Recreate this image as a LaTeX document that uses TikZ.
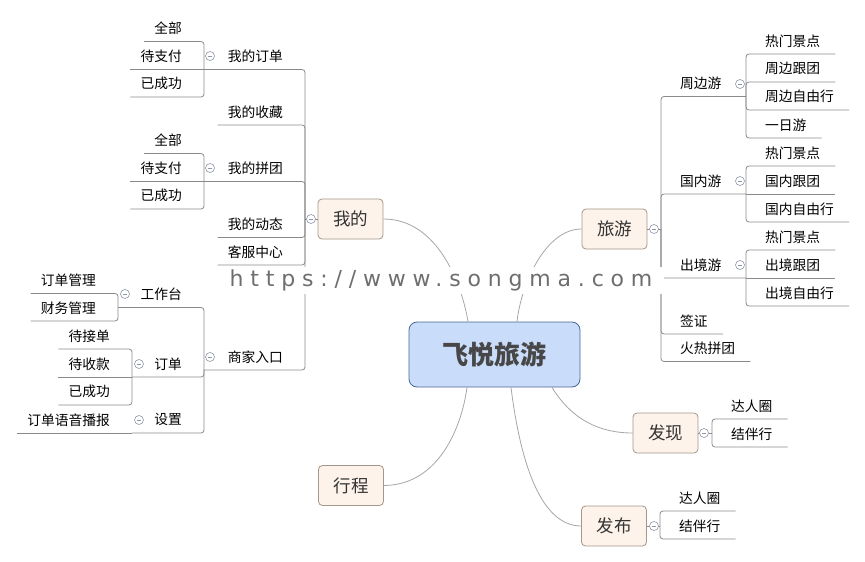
\documentclass[tikz,border=0pt]{standalone}
\usepackage{fontspec}
\usetikzlibrary{positioning}
\newfontfamily\cjk{Noto Sans CJK SC}
\newfontfamily\wmfont[LetterSpace=31]{DejaVu Sans}
\definecolor{rootfill}{HTML}{C9DCF9}
\definecolor{rootline}{HTML}{4B6894}
\definecolor{boxfill}{HTML}{FDF3EA}
\definecolor{boxline}{HTML}{A3968A}
\definecolor{treegray}{HTML}{8A8A8A}
\definecolor{curvegray}{HTML}{A6A6A6}
\definecolor{foldgray}{HTML}{8E96A8}
\definecolor{wmgray}{HTML}{6E6E6E}

\tikzset{
  leaf/.style={font=\cjk\fontsize{13.75}{16}\selectfont, inner ysep=0pt, minimum height=26pt},
  lnode/.style={leaf, inner xsep=10pt, anchor=south east, xshift=-12pt},
  rnode/.style={leaf, inner xsep=15pt, anchor=south west, xshift=4pt},
  tline/.style={draw=treegray, line width=0.8pt, rounded corners=3pt},
  curve/.style={draw=curvegray, line width=0.8pt},
  topicbox/.style={draw=boxline, fill=boxfill, rounded corners=4pt, line width=0.8pt,
    minimum width=65pt, minimum height=40pt, font=\cjk\fontsize{17.5}{20}\selectfont, text=black!80},
  rootbox/.style={draw=rootline, fill=rootfill, rounded corners=8pt, line width=0.8pt,
    minimum width=171pt, minimum height=65pt, font=\cjk\bfseries\fontsize{26}{30}\selectfont, text=black!72},
  fold/.style={circle, draw=foldgray, fill=white, inner sep=0pt, minimum size=9pt, line width=0.6pt,
    path picture={\draw[foldgray, line width=0.6pt] ([xshift=-2.3pt]path picture bounding box.center)
      -- ([xshift=2.3pt]path picture bounding box.center);}},
  wmark/.style={fill=white, inner sep=0pt, minimum width=446pt, minimum height=27pt,
    font=\wmfont\fontsize{22}{24}\selectfont, text=wmgray},
}

\begin{document}
\begin{tikzpicture}[x=1pt, y=-1pt]
  \useasboundingbox (0,0) rectangle (865,562);

  % central topic and main branches
  \node[rootbox] (root) at (494.5,354.5) {飞悦旅游};
  \node[topicbox] (wd) at (350.5,219) {我的};
  \node[topicbox] (ly) at (614.5,229) {旅游};
  \node[topicbox] (fx) at (665.5,433) {发现};
  \node[topicbox] (fb) at (614,526) {发布};
  \node[topicbox] (xc) at (351,485.5) {行程};

  \draw[curve] (wd.east) .. controls (438,219) and (462,285) .. ([xshift=-26.5pt]root.north);
  \draw[curve] (ly.west) .. controls (545,229) and (521,285) .. ([xshift=22.5pt]root.north);
  \draw[curve] (xc.east) .. controls (440,485) and (462,425) .. ([xshift=-27.5pt]root.south);
  \draw[curve] ([xshift=57.5pt]root.south) .. controls (572,420) and (600,433) .. (fx.west);
  \draw[curve] ([xshift=16.5pt]root.south) .. controls (522,475) and (545,526) .. (fb.west);

  % junctions
  \coordinate (wd-j) at (305,219);
  \coordinate (dd-j) at (204,69.5);
  \coordinate (pt-j) at (204,181.5);
  \coordinate (sj-j) at (204,370);
  \coordinate (gz-j) at (118,307.5);
  \coordinate (od-j) at (132,377);
  \coordinate (sz-j) at (132,433);
  \coordinate (ly-j) at (661,229);
  \coordinate (zb-j) at (746,96.5);
  \coordinate (gn-j) at (746,194);
  \coordinate (cj-j) at (746,278);
  \coordinate (fx-j) at (712,433);
  \coordinate (fb-j) at (660,526);

  % 我的
  \node[lnode] (wd-dd) at (305,69.5) {我的订单};
  \node[lnode] (wd-sc) at (305,125) {我的收藏};
  \node[lnode] (wd-pt) at (305,181.5) {我的拼团};
  \node[lnode] (wd-dt) at (305,237.5) {我的动态};
  \node[lnode] (wd-kf) at (305,265) {客服中心};
  \node[lnode] (wd-sj) at (305,370) {商家入口};
  \node[lnode] (dd-qb) at (204,41.5) {全部};
  \node[lnode] (dd-zf) at (204,69.5) {待支付};
  \node[lnode] (dd-cg) at (204,97) {已成功};
  \node[lnode] (pt-qb) at (204,153.5) {全部};
  \node[lnode] (pt-zf) at (204,181.5) {待支付};
  \node[lnode] (pt-cg) at (204,209) {已成功};
  \node[lnode] (sj-gz) at (204,307.5) {工作台};
  \node[lnode] (sj-od) at (204,377) {订单};
  \node[lnode] (sj-sz) at (204,433) {设置};
  \node[lnode] (gz-dd) at (118,293.5) {订单管理};
  \node[lnode] (gz-cw) at (118,321) {财务管理};
  \node[lnode] (od-jd) at (132,349) {待接单};
  \node[lnode] (od-sk) at (132,377) {待收款};
  \node[lnode] (od-cg) at (132,405) {已成功};
  \node[lnode] (sz-yy) at (132,433) {订单语音播报};

  \draw[tline] (wd.west) -- (wd-j);
  \draw[tline] (wd-j) |- (dd-j);
  \draw[tline] (wd-j) |- (wd-sc.south west);
  \draw[tline] (wd-j) |- (pt-j);
  \draw[tline] (wd-j) |- (wd-dt.south west);
  \draw[tline] (wd-j) |- (wd-kf.south west);
  \draw[tline] (wd-j) |- (sj-j);
  \draw[tline] (dd-j) |- (dd-qb.south west);
  \draw[tline] (dd-j) -- (dd-zf.south west);
  \draw[tline] (dd-j) |- (dd-cg.south west);
  \draw[tline] (pt-j) |- (pt-qb.south west);
  \draw[tline] (pt-j) -- (pt-zf.south west);
  \draw[tline] (pt-j) |- (pt-cg.south west);
  \draw[tline] (sj-j) |- (gz-j);
  \draw[tline] (sj-j) |- (od-j);
  \draw[tline] (sj-j) |- (sz-j);
  \draw[tline] (gz-j) |- (gz-dd.south west);
  \draw[tline] (gz-j) |- (gz-cw.south west);
  \draw[tline] (od-j) |- (od-jd.south west);
  \draw[tline] (od-j) -- (od-sk.south west);
  \draw[tline] (od-j) |- (od-cg.south west);
  \draw[tline] (sz-j) -- (sz-yy.south west);

  % 旅游
  \node[rnode] (ly-zb) at (661,96.5) {周边游};
  \node[rnode] (ly-gn) at (661,194) {国内游};
  \node[rnode] (ly-cj) at (661,278) {出境游};
  \node[rnode] (ly-qz) at (661,334) {签证};
  \node[rnode] (ly-hr) at (661,361.5) {火热拼团};
  \node[rnode] (zb-rm) at (746,54) {热门景点};
  \node[rnode] (zb-gt) at (746,82) {周边跟团};
  \node[rnode] (zb-zy) at (746,110) {周边自由行};
  \node[rnode] (zb-yr) at (746,138) {一日游};
  \node[rnode] (gn-rm) at (746,166) {热门景点};
  \node[rnode] (gn-gt) at (746,194) {国内跟团};
  \node[rnode] (gn-zy) at (746,222) {国内自由行};
  \node[rnode] (cj-rm) at (746,250) {热门景点};
  \node[rnode] (cj-gt) at (746,278) {出境跟团};
  \node[rnode] (cj-zy) at (746,306) {出境自由行};

  \draw[tline] (ly.east) -- (ly-j);
  \draw[tline] (ly-j) |- (zb-j);
  \draw[tline] (ly-j) |- (gn-j);
  \draw[tline] (ly-j) |- (cj-j);
  \draw[tline] (ly-j) |- (ly-qz.south east);
  \draw[tline] (ly-j) |- (ly-hr.south east);
  \draw[tline] (zb-j) |- (zb-rm.south east);
  \draw[tline] (zb-j) |- (zb-gt.south east);
  \draw[tline] (zb-j) |- (zb-zy.south east);
  \draw[tline] (zb-j) |- (zb-yr.south east);
  \draw[tline] (gn-j) |- (gn-rm.south east);
  \draw[tline] (gn-j) -- (gn-gt.south east);
  \draw[tline] (gn-j) |- (gn-zy.south east);
  \draw[tline] (cj-j) |- (cj-rm.south east);
  \draw[tline] (cj-j) -- (cj-gt.south east);
  \draw[tline] (cj-j) |- (cj-zy.south east);

  % 发现, 发布
  \node[rnode] (fx-dr) at (712,419) {达人圈};
  \node[rnode] (fx-jb) at (712,447) {结伴行};
  \node[rnode] (fb-dr) at (660,511) {达人圈};
  \node[rnode] (fb-jb) at (660,539) {结伴行};

  \draw[tline] (fx.east) -- (fx-j);
  \draw[tline] (fx-j) |- (fx-dr.south east);
  \draw[tline] (fx-j) |- (fx-jb.south east);
  \draw[tline] (fb.east) -- (fb-j);
  \draw[tline] (fb-j) |- (fb-dr.south east);
  \draw[tline] (fb-j) |- (fb-jb.south east);

  % fold marks
  \node[fold] (wd-f) at (311,219) {};
  \node[fold] (dd-f) at (210,56) {};
  \node[fold] (pt-f) at (210,168) {};
  \node[fold] (sj-f) at (210,357) {};
  \node[fold] (gz-f) at (125,294) {};
  \node[fold] (od-f) at (139,364) {};
  \node[fold] (sz-f) at (139,420) {};
  \node[fold] (ly-f) at (654,229) {};
  \node[fold] (zb-f) at (740,84) {};
  \node[fold] (gn-f) at (740,181) {};
  \node[fold] (cj-f) at (740,265) {};
  \node[fold] (fx-f) at (704,433) {};
  \node[fold] (fb-f) at (654,526) {};

  \node[wmark] (wm) at (441,280) {https://www.songma.com};
\end{tikzpicture}
\end{document}
